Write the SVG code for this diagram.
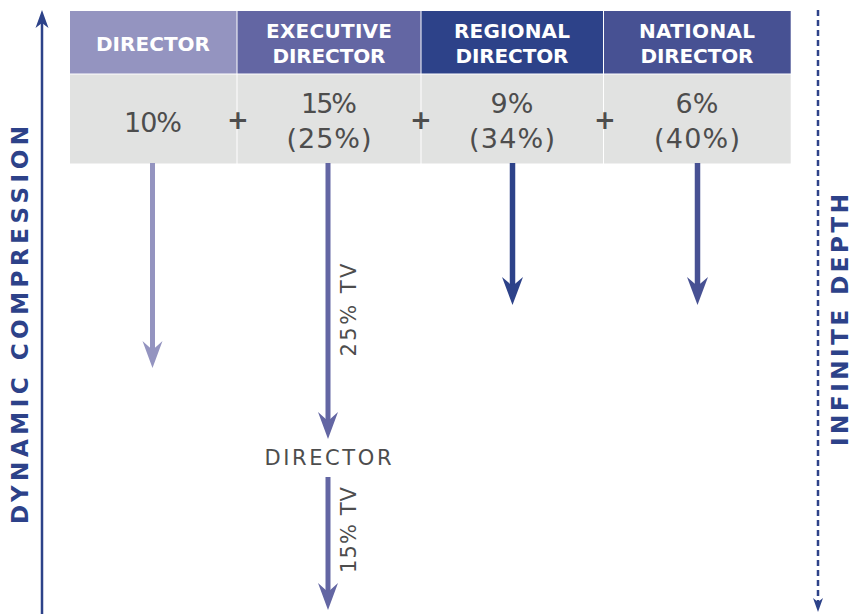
<svg xmlns="http://www.w3.org/2000/svg" width="854" height="614" viewBox="0 0 854 614">
<style>
.hdr{font-family:"DejaVu Sans","Liberation Sans",sans-serif;font-weight:bold;font-size:20px;fill:#ffffff;text-anchor:middle}
.val{font-family:"DejaVu Sans","Liberation Sans",sans-serif;font-size:27px;fill:#4d4d4d;text-anchor:middle}
.plus{font-family:"DejaVu Sans","Liberation Sans",sans-serif;font-weight:bold;font-size:26px;fill:#4d4d4d;text-anchor:middle}
.lbl{font-family:"DejaVu Sans","Liberation Sans",sans-serif;font-size:21px;fill:#4d4d4d;text-anchor:middle}
.axis{font-family:"DejaVu Sans","Liberation Sans",sans-serif;font-weight:bold;font-size:23px;fill:#2d4289;text-anchor:middle}
.body{fill:#e1e2e1}
</style>
<rect width="854" height="614" fill="#ffffff"/>
<g id="col-director">
<rect x="70" y="11" width="166.5" height="62.5" fill="#9494c0"/>
<rect class="body" x="70" y="74.5" width="166.5" height="89"/>
<text class="hdr" x="153" y="51" textLength="114" lengthAdjust="spacing">DIRECTOR</text>
<text class="val" x="153" y="132" textLength="58" lengthAdjust="spacing">10%</text>
</g>
<g id="col-executive">
<rect x="237.5" y="11" width="183" height="62.5" fill="#6366a3"/>
<rect class="body" x="237.5" y="74.5" width="183" height="89"/>
<text class="hdr" x="329" y="38" textLength="126" lengthAdjust="spacing">EXECUTIVE</text>
<text class="hdr" x="329" y="63" textLength="113" lengthAdjust="spacing">DIRECTOR</text>
<text class="val" x="329" y="113" textLength="56" lengthAdjust="spacing">15%</text>
<text class="val" x="329" y="148" textLength="85" lengthAdjust="spacing">(25%)</text>
</g>
<g id="col-regional">
<rect x="421.5" y="11" width="181.5" height="62.5" fill="#2d4289"/>
<rect class="body" x="421.5" y="74.5" width="181.5" height="89"/>
<text class="hdr" x="512" y="38" textLength="116" lengthAdjust="spacing">REGIONAL</text>
<text class="hdr" x="512" y="63" textLength="113" lengthAdjust="spacing">DIRECTOR</text>
<text class="val" x="512" y="113">9%</text>
<text class="val" x="512" y="148" textLength="86" lengthAdjust="spacing">(34%)</text>
</g>
<g id="col-national">
<rect x="604" y="11" width="186.7" height="62.5" fill="#475193"/>
<rect class="body" x="604" y="74.5" width="186.7" height="89"/>
<text class="hdr" x="697" y="38" textLength="116" lengthAdjust="spacing">NATIONAL</text>
<text class="hdr" x="697" y="63" textLength="113" lengthAdjust="spacing">DIRECTOR</text>
<text class="val" x="697" y="113">6%</text>
<text class="val" x="697" y="148" textLength="86" lengthAdjust="spacing">(40%)</text>
</g>
<g id="plus-signs">
<text class="plus" x="238" y="129">+</text>
<text class="plus" x="421" y="129">+</text>
<text class="plus" x="605" y="129">+</text>
</g>
<g id="director-node">
<text class="lbl" x="328" y="465" font-size="22" textLength="127" lengthAdjust="spacing">DIRECTOR</text>
</g>
<g id="axis-left">
<text class="axis" transform="translate(28,325) rotate(-90)" textLength="398" lengthAdjust="spacing">DYNAMIC COMPRESSION</text>
</g>
<g id="axis-right">
<text class="axis" font-size="22" transform="translate(848,320) rotate(-90)" textLength="252" lengthAdjust="spacing">INFINITE DEPTH</text>
</g>
<g id="connectors">
<line x1="42" y1="614" x2="42" y2="22" stroke="#2d4289" stroke-width="2.5"/>
<path d="M35.5,28 L42,10 L48.5,28 L42,23 Z" fill="#2d4289"/>
<line x1="818" y1="10" x2="818" y2="604" stroke="#2d4289" stroke-width="2.5" stroke-dasharray="6,4"/>
<path d="M813,598 L818,612 L823,598 L818,602 Z" fill="#2d4289"/>
<line x1="152.5" y1="163" x2="152.5" y2="352" stroke="#9494c0" stroke-width="5"/>
<path d="M142.5,341 L152.5,368 L162.5,341 L152.5,350 Z" fill="#9494c0"/>
<line x1="328" y1="163" x2="328" y2="422" stroke="#6366a3" stroke-width="5"/>
<path d="M318,412 L328,439 L338,412 L328,421 Z" fill="#6366a3"/>
<text class="lbl" transform="translate(356,310) rotate(-90)" textLength="93" lengthAdjust="spacing">25% TV</text>
<line x1="328" y1="477" x2="328" y2="594" stroke="#6366a3" stroke-width="5"/>
<path d="M318,583 L328,610 L338,583 L328,592 Z" fill="#6366a3"/>
<text class="lbl" transform="translate(356,530) rotate(-90)" textLength="86" lengthAdjust="spacing">15% TV</text>
<line x1="512.5" y1="163" x2="512.5" y2="288" stroke="#2d4289" stroke-width="5.5"/>
<path d="M502,277 L512.5,305 L523,277 L512.5,286 Z" fill="#2d4289"/>
<line x1="697.5" y1="163" x2="697.5" y2="288" stroke="#475193" stroke-width="5.5"/>
<path d="M687,277 L697.5,305 L708,277 L697.5,286 Z" fill="#475193"/>
</g>
</svg>
